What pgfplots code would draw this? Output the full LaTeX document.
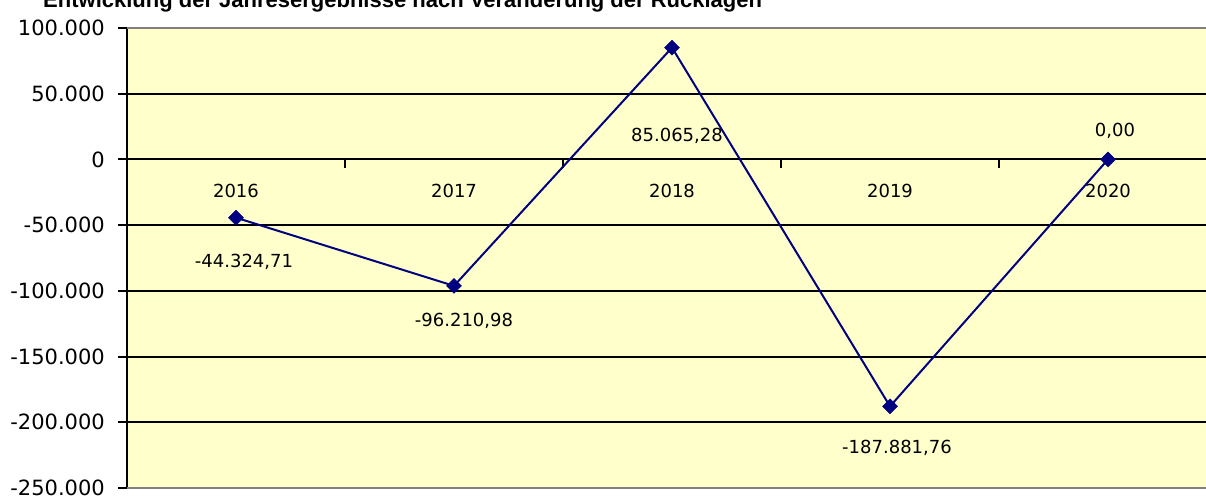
\documentclass[border=0pt]{standalone}
\usepackage{fontspec}
\setmainfont{DejaVu Sans}
\newfontfamily\titlefont{Liberation Sans}
\usepackage{pgfplots}
\usepackage{pgfplotstable}
\pgfplotsset{compat=1.18}

\definecolor{bgyellow}{RGB}{255,255,204}
\definecolor{navyline}{RGB}{0,0,128}
\definecolor{bordergray}{RGB}{128,128,128}

% year index, result, label text, label offset (pt)
\pgfplotstableread{
x y lab dx dy
0 -44324.71 -44.324,71 8 -44
1 -96210.98 -96.210,98 10 -35
2 85065.28 85.065,28 5 -88
3 -187881.76 -187.881,76 7 -42
4 0 0,00 7 29
}\resultdata

\begin{document}
\begin{tikzpicture}
\begin{axis}[
    at={(127pt,7pt)}, anchor=south west,
    scale only axis, width=1085pt, height=460pt,
    xmin=-0.5, xmax=4.477, ymin=-250000, ymax=100000,
    axis background/.style={fill=bgyellow},
    axis y line*=left, axis x line*=middle,
    axis line style={black, line width=2pt},
    hide obscured x ticks=false, hide obscured y ticks=false,
    scaled y ticks=false,
    tick style={black, line width=2pt},
    ytick={-250000,-200000,-150000,-100000,-50000,0,50000,100000},
    yticklabels={-250.000,-200.000,-150.000,-100.000,-50.000,0,50.000,100.000},
    ytick align=outside, major tick length=9pt,
    yticklabel style={font=\fontsize{21}{25}\selectfont, anchor=east, inner sep=0pt},
    yticklabel shift=13pt,
    ymajorgrids, major grid style={black, line width=2pt},
    xtick={0.5,1.5,2.5,3.5}, xticklabels={},
    xtick align=outside,
    extra x ticks={0,1,2,3,4},
    extra x tick labels={2016,2017,2018,2019,2020},
    extra x tick style={major tick length=0pt,
        xticklabel style={font=\fontsize{18}{22}\selectfont, anchor=center, inner sep=0pt, yshift=-32pt}},
]
\addplot[navyline, line width=2pt,
    mark=square*, mark size=5.3pt,
    mark options={rotate=45, fill=navyline, draw=navyline, line width=0.5pt},
    nodes near coords, point meta=explicit symbolic,
    visualization depends on={\thisrow{dx} \as \dx},
    visualization depends on={\thisrow{dy} \as \dy},
    every node near coord/.style={anchor=center, inner sep=0pt, text=black,
        font=\fontsize{18}{22}\selectfont, xshift=\dx pt, yshift=\dy pt}]
  table[x=x, y=y, meta=lab] {\resultdata};
\draw[bordergray, line width=3pt] (rel axis cs:0,1) -- (rel axis cs:1,1);
\draw[bordergray, line width=3pt] (rel axis cs:0,0) -- (rel axis cs:1,0);
\end{axis}
\node[anchor=base west, inner sep=0pt,
    font=\titlefont\bfseries\fontsize{22}{26}\selectfont]
    at (43pt,487.5pt) {Entwicklung der Jahresergebnisse nach Veränderung der Rücklagen};
\pgfresetboundingbox
\path[use as bounding box] (0pt,0pt) rectangle (1206pt,495pt);
\end{tikzpicture}
\end{document}
